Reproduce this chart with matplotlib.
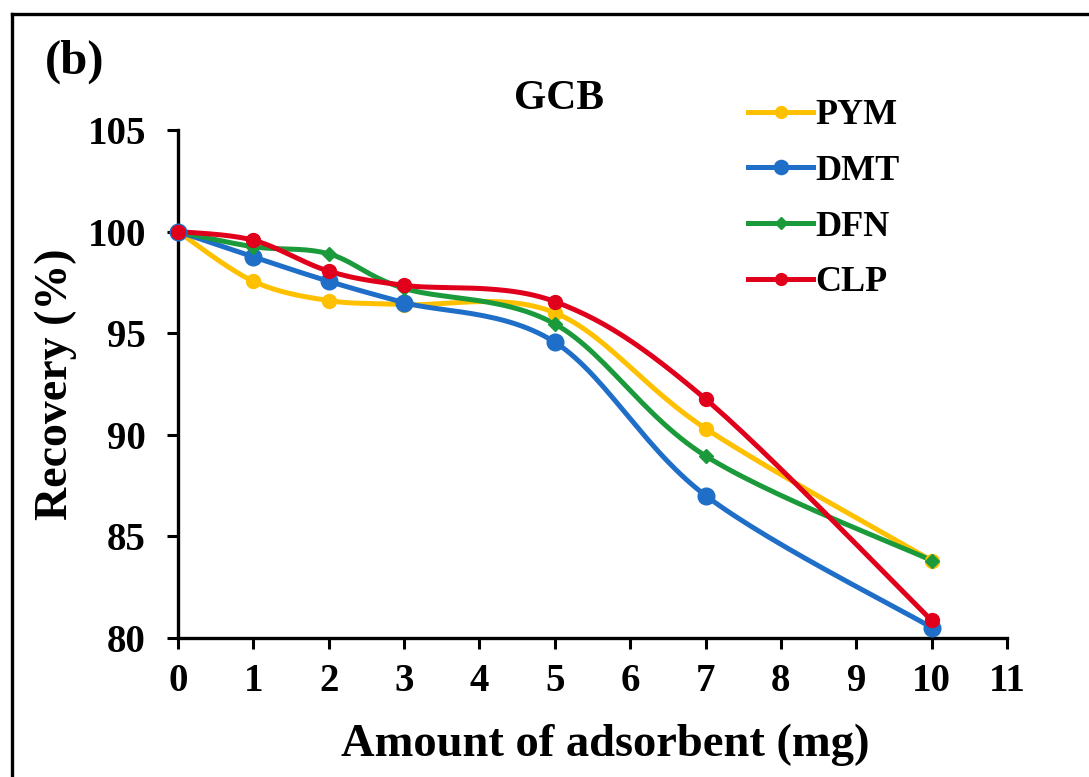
import numpy as np
import matplotlib
matplotlib.use("Agg")
import matplotlib.pyplot as plt
from matplotlib.lines import Line2D

# data
amount = [0, 1, 2, 3, 5, 7, 10]
pym = [100, 97.55, 96.6, 96.4, 96.0, 90.3, 83.8]
dmt = [100, 98.75, 97.55, 96.5, 94.55, 87.0, 80.5]
dfn = [100, 99.25, 98.9, 97.2, 95.45, 88.95, 83.8]
clp = [100, 99.57, 98.05, 97.35, 96.55, 91.75, 80.85]
names = ['PYM', 'DMT', 'DFN', 'CLP']
colors = ['#FFC000', '#1F6FC8', '#1A9A3A', '#E0001B']
markers = ['o', 'o', 'D', 'o']
msizes = [10, 12, 7, 10]


def smooth(x, y, n=30):
    # Excel style smoothed line (Bezier through the points)
    p = np.column_stack([x, y]).astype(float)
    pts = []
    for i in range(len(p) - 1):
        p0 = p[i - 1] if i > 0 else p[i]
        p3 = p[i + 2] if i + 2 < len(p) else p[i + 1]
        c1 = p[i] + (p[i + 1] - p0) / 6
        c2 = p[i + 1] - (p3 - p[i]) / 6
        t = np.linspace(0, 1, n)[:, None]
        seg = ((1 - t) ** 3 * p[i] + 3 * (1 - t) ** 2 * t * c1
               + 3 * (1 - t) * t ** 2 * c2 + t ** 3 * p[i + 1])
        pts.append(seg)
    pts = np.vstack(pts)
    return pts[:, 0], pts[:, 1]


plt.rcParams['font.family'] = ['Liberation Serif', 'DejaVu Serif']
plt.rcParams['font.weight'] = 'bold'

fig = plt.figure(figsize=(10.89, 7.77), dpi=100)
ax = fig.add_axes([0.1635, 0.1793, 0.7612, 0.6534])

handles = []
for ys, name, c, m, ms in zip([pym, dmt, dfn, clp], names, colors, markers, msizes):
    sx, sy = smooth(amount, ys)
    ax.plot(sx, sy, color=c, lw=3.6, solid_capstyle='round', zorder=2)
    ax.plot(amount, ys, ls='none', marker=m, ms=ms, color=c, zorder=3, clip_on=False)
    handles.append(Line2D([], [], color=c, lw=3.6, marker=m, ms=ms * 0.85))

ax.set_xlim(0, 11)
ax.set_ylim(80, 105)
ax.set_xticks(range(0, 12))
ax.set_yticks([80, 85, 90, 95, 100, 105])
for s in ['top', 'right']:
    ax.spines[s].set_visible(False)
for s in ['left', 'bottom']:
    ax.spines[s].set_linewidth(2.4)
ax.tick_params(direction='out', length=8, width=2.2, labelsize=28)
ax.tick_params(axis='x', pad=10)
ax.tick_params(axis='y', pad=15)
for lab in ax.get_xticklabels() + ax.get_yticklabels():
    lab.set_fontweight('bold')

ax.set_xlabel('Amount of adsorbent (mg)', fontsize=33.5, fontweight='bold', va='center')
ax.xaxis.set_label_coords(0.515, -0.21)
ax.set_ylabel('Recovery (%)', fontsize=33, fontweight='bold', va='center')
ax.yaxis.set_label_coords(-0.148, 0.5)

fig.text(0.513, 1 - 99 / 777, 'GCB', fontsize=30, fontweight='bold', ha='center', va='center')
fig.text(0.041, 1 - 62 / 777, '(b)', fontsize=35, fontweight='bold', ha='left', va='center')

leg = ax.legend(handles, names, loc='upper left', bbox_to_anchor=(0.688, 1.061),
                frameon=False, handlelength=1.78, handletextpad=0.08,
                labelspacing=0.62, borderpad=0, borderaxespad=0,
                prop={'weight': 'bold', 'size': 26})

# frame lines of the panel (top and left)
fig.add_artist(Line2D([12 / 1089, 1], [1 - 14 / 777, 1 - 14 / 777], color='black', lw=2.4))
fig.add_artist(Line2D([12 / 1089, 12 / 1089], [0, 1 - 14 / 777], color='black', lw=2.4))

fig.savefig('out.png', dpi=100)
